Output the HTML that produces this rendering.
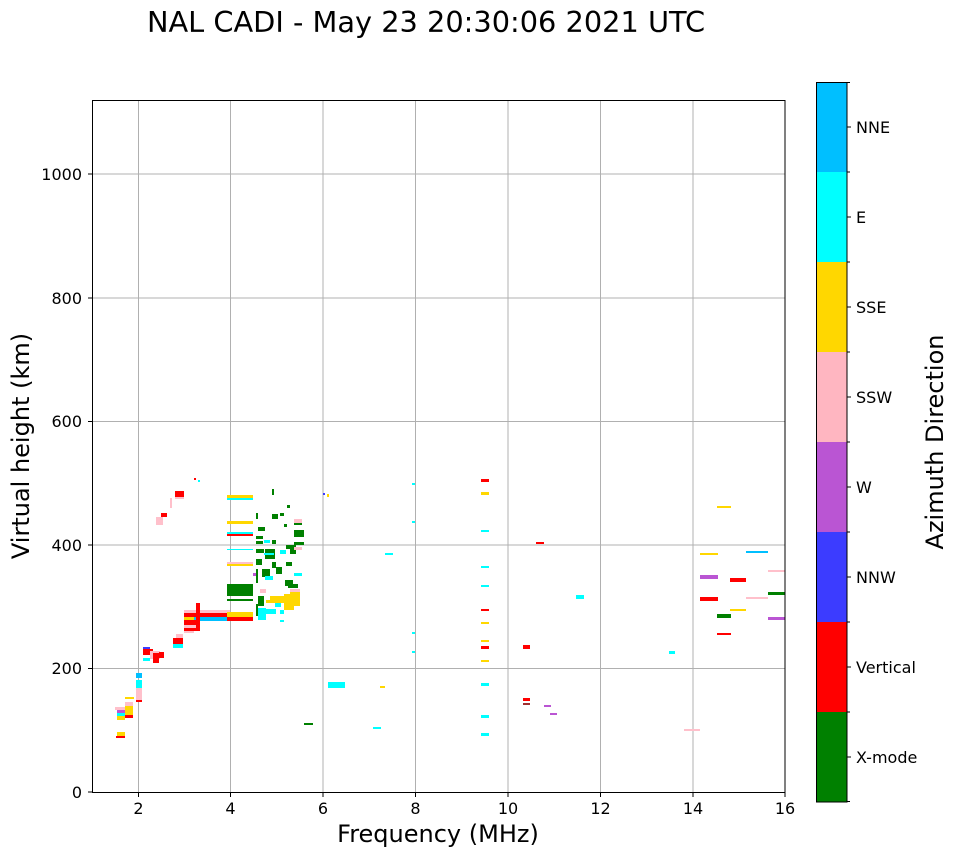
<!DOCTYPE html>
<html><head><meta charset="utf-8"><style>
body{margin:0;background:#fff;width:958px;height:857px;overflow:hidden}
</style></head><body>
<svg width="958" height="857" xmlns="http://www.w3.org/2000/svg" font-family="DejaVu Sans, Liberation Sans, sans-serif">
<text x="426" y="32" font-size="28.8" text-anchor="middle">NAL CADI - May 23 20:30:06 2021 UTC</text>
<g stroke="#b0b0b0" stroke-width="1">
<line x1="138.5" y1="100" x2="138.5" y2="792"/><line x1="230.5" y1="100" x2="230.5" y2="792"/>
<line x1="323" y1="100" x2="323" y2="792"/><line x1="415.5" y1="100" x2="415.5" y2="792"/>
<line x1="508" y1="100" x2="508" y2="792"/><line x1="600.5" y1="100" x2="600.5" y2="792"/>
<line x1="693" y1="100" x2="693" y2="792"/>
<line x1="92" y1="668.5" x2="785" y2="668.5"/><line x1="92" y1="545" x2="785" y2="545"/>
<line x1="92" y1="421.5" x2="785" y2="421.5"/><line x1="92" y1="298" x2="785" y2="298"/>
<line x1="92" y1="174" x2="785" y2="174"/>
</g>
<g>
<rect x="117" y="732" width="8" height="4" fill="#ffd700"/><rect x="116" y="736" width="9" height="2" fill="red"/>
<rect x="115" y="707" width="10" height="3" fill="pink"/><rect x="117" y="710" width="10" height="3" fill="mediumorchid"/>
<rect x="117" y="713" width="10" height="3" fill="cyan"/><rect x="117" y="716" width="8" height="4" fill="#ffd700"/>
<rect x="125" y="705" width="8" height="10" fill="#ffd700"/><rect x="125" y="715" width="8" height="3" fill="red"/>
<rect x="125" y="697" width="9" height="2" fill="#ffd700"/><rect x="125" y="702" width="8" height="4" fill="pink"/>
<rect x="136" y="673" width="6" height="5" fill="#00bfff"/><rect x="136" y="680" width="6" height="8" fill="cyan"/>
<rect x="136" y="688" width="6" height="12" fill="pink"/><rect x="136" y="700" width="6" height="2" fill="red"/>
<rect x="143" y="647" width="7" height="2" fill="#3c3cff"/><rect x="143" y="649" width="10" height="6" fill="red"/>
<rect x="143" y="658" width="7" height="3" fill="cyan"/><rect x="150" y="651" width="10" height="8" fill="pink"/>
<rect x="153" y="653" width="6" height="10" fill="red"/><rect x="159" y="652" width="5" height="6" fill="red"/>
<rect x="173" y="638" width="10" height="6" fill="red"/><rect x="173" y="644" width="10" height="4" fill="cyan"/>
<rect x="176" y="634" width="7" height="4" fill="pink"/>
<rect x="170" y="498" width="2" height="10" fill="pink"/><rect x="175" y="491" width="9" height="6" fill="red"/><rect x="175" y="497" width="9" height="2" fill="pink"/>
<rect x="161" y="513" width="6" height="4" fill="red"/><rect x="156" y="517" width="7" height="8" fill="pink"/>
<rect x="194" y="478" width="2" height="2" fill="red"/><rect x="198" y="480" width="2" height="2" fill="cyan"/>
<rect x="184" y="610" width="46" height="3" fill="pink"/><rect x="184" y="613" width="46" height="4" fill="red"/>
<rect x="184" y="617" width="10" height="3" fill="#ffd700"/><rect x="194" y="617" width="36" height="4" fill="#00bfff"/>
<rect x="184" y="620" width="14" height="5" fill="red"/><rect x="184" y="625" width="14" height="3" fill="pink"/>
<rect x="184" y="628" width="14" height="3" fill="red"/><rect x="184" y="631" width="10" height="2" fill="pink"/>
<rect x="196" y="603" width="4" height="28" fill="red"/>
<rect x="227" y="495" width="26" height="3" fill="#ffd700"/><rect x="227" y="498" width="26" height="2" fill="cyan"/>
<rect x="227" y="521" width="26" height="3" fill="#ffd700"/>
<rect x="227" y="532" width="26" height="2" fill="cyan"/><rect x="227" y="534" width="26" height="2" fill="red"/>
<rect x="227" y="549" width="26" height="1" fill="cyan"/>
<rect x="227" y="562" width="26" height="2" fill="pink"/><rect x="227" y="564" width="26" height="2" fill="#ffd700"/>
<rect x="227" y="584" width="26" height="12" fill="green"/><rect x="227" y="599" width="26" height="2" fill="green"/>
<rect x="227" y="612" width="26" height="5" fill="#ffd700"/><rect x="227" y="617" width="26" height="4" fill="red"/>
<rect x="256" y="513" width="2" height="6" fill="green"/><rect x="272" y="489" width="2" height="6" fill="green"/>
<rect x="258" y="527" width="7" height="4" fill="green"/><rect x="272" y="514" width="6" height="5" fill="green"/>
<rect x="280" y="513" width="4" height="3" fill="green"/><rect x="284" y="524" width="3" height="3" fill="green"/>
<rect x="287" y="505" width="3" height="3" fill="green"/><rect x="294" y="519" width="8" height="4" fill="pink"/>
<rect x="294" y="523" width="8" height="2" fill="green"/><rect x="294" y="530" width="10" height="7" fill="green"/>
<rect x="256" y="536" width="7" height="3" fill="green"/><rect x="256" y="541" width="7" height="3" fill="green"/>
<rect x="264" y="540" width="6" height="3" fill="cyan"/><rect x="272" y="540" width="4" height="4" fill="green"/>
<rect x="256" y="549" width="8" height="4" fill="green"/><rect x="265" y="549" width="10" height="10" fill="green"/>
<rect x="264" y="553" width="10" height="2" fill="cyan"/><rect x="286" y="545" width="10" height="4" fill="green"/>
<rect x="280" y="550" width="6" height="4" fill="cyan"/><rect x="290" y="548" width="6" height="6" fill="green"/>
<rect x="294" y="542" width="10" height="3" fill="green"/><rect x="294" y="547" width="8" height="3" fill="pink"/>
<rect x="256" y="559" width="6" height="6" fill="green"/><rect x="272" y="562" width="4" height="6" fill="green"/>
<rect x="286" y="562" width="6" height="4" fill="green"/><rect x="294" y="573" width="8" height="3" fill="cyan"/>
<rect x="256" y="569" width="2" height="14" fill="green"/><rect x="262" y="569" width="8" height="8" fill="green"/>
<rect x="265" y="576" width="8" height="4" fill="cyan"/><rect x="276" y="567" width="6" height="7" fill="green"/>
<rect x="285" y="580" width="8" height="6" fill="green"/><rect x="288" y="584" width="10" height="4" fill="green"/>
<rect x="290" y="589" width="10" height="4" fill="pink"/><rect x="290" y="592" width="10" height="3" fill="#ffd700"/>
<rect x="260" y="589" width="6" height="4" fill="pink"/><rect x="258" y="596" width="6" height="10" fill="green"/>
<rect x="266" y="600" width="30" height="3" fill="#ffd700"/><rect x="270" y="596" width="14" height="4" fill="#ffd700"/>
<rect x="284" y="594" width="16" height="12" fill="#ffd700"/><rect x="284" y="606" width="10" height="4" fill="#ffd700"/>
<rect x="258" y="608" width="8" height="12" fill="cyan"/><rect x="266" y="609" width="10" height="5" fill="cyan"/>
<rect x="275" y="603" width="6" height="4" fill="cyan"/><rect x="280" y="610" width="4" height="4" fill="cyan"/>
<rect x="256" y="604" width="2" height="12" fill="green"/><rect x="280" y="620" width="4" height="2" fill="cyan"/>
<rect x="253" y="573" width="3" height="3" fill="mediumorchid"/>
<rect x="323" y="493" width="2" height="2" fill="#3c3cff"/><rect x="327" y="494" width="2" height="3" fill="#ffd700"/>
<rect x="304" y="723" width="9" height="2" fill="green"/>
<rect x="328" y="682" width="17" height="6" fill="cyan"/><rect x="373" y="727" width="8" height="2" fill="cyan"/>
<rect x="380" y="686" width="5" height="2" fill="#ffd700"/>
<rect x="385" y="553" width="8" height="2" fill="cyan"/>
<rect x="412" y="483" width="3" height="2" fill="cyan"/><rect x="412" y="521" width="3" height="2" fill="cyan"/>
<rect x="412" y="632" width="3" height="2" fill="cyan"/><rect x="412" y="651" width="3" height="2" fill="cyan"/>
<rect x="481" y="479" width="8" height="3" fill="red"/><rect x="481" y="492" width="8" height="3" fill="#ffd700"/>
<rect x="481" y="530" width="8" height="2" fill="cyan"/><rect x="481" y="566" width="8" height="2" fill="cyan"/>
<rect x="481" y="585" width="8" height="2" fill="cyan"/><rect x="481" y="609" width="8" height="2" fill="red"/>
<rect x="481" y="622" width="8" height="2" fill="#ffd700"/><rect x="481" y="640" width="8" height="2" fill="#ffd700"/>
<rect x="481" y="646" width="8" height="3" fill="red"/><rect x="481" y="660" width="8" height="2" fill="#ffd700"/>
<rect x="481" y="683" width="8" height="3" fill="cyan"/><rect x="481" y="715" width="8" height="3" fill="cyan"/>
<rect x="481" y="733" width="8" height="3" fill="cyan"/>
<rect x="536" y="542" width="8" height="2" fill="red"/><rect x="523" y="645" width="7" height="4" fill="red"/>
<rect x="523" y="698" width="7" height="3" fill="red"/><rect x="523" y="703" width="7" height="2" fill="#a03030"/>
<rect x="576" y="595" width="8" height="4" fill="cyan"/><rect x="544" y="705" width="7" height="2" fill="mediumorchid"/>
<rect x="550" y="713" width="7" height="2" fill="mediumorchid"/>
<rect x="700" y="575" width="18" height="4" fill="mediumorchid"/><rect x="700" y="597" width="18" height="4" fill="red"/>
<rect x="700" y="553" width="18" height="2" fill="#ffd700"/><rect x="717" y="633" width="14" height="2" fill="red"/>
<rect x="717" y="614" width="14" height="4" fill="green"/><rect x="717" y="506" width="14" height="2" fill="#ffd700"/>
<rect x="730" y="578" width="16" height="4" fill="red"/><rect x="730" y="609" width="16" height="2" fill="#ffd700"/>
<rect x="746" y="551" width="22" height="2" fill="#00bfff"/><rect x="746" y="597" width="22" height="2" fill="pink"/>
<rect x="768" y="617" width="17" height="3" fill="mediumorchid"/><rect x="768" y="592" width="17" height="3" fill="green"/>
<rect x="768" y="570" width="17" height="2" fill="pink"/><rect x="684" y="729" width="16" height="2" fill="pink"/>
<rect x="669" y="651" width="6" height="3" fill="cyan"/>
</g>
<rect x="92.5" y="100.5" width="692.5" height="692" fill="none" stroke="#000"/>
<g font-size="16" text-anchor="middle">
<text x="138.5" y="814">2</text><text x="230.5" y="814">4</text><text x="323" y="814">6</text><text x="415.5" y="814">8</text>
<text x="508" y="814">10</text><text x="600.5" y="814">12</text><text x="693" y="814">14</text><text x="785" y="814">16</text>
</g>
<g font-size="16" text-anchor="end">
<text x="82" y="798">0</text><text x="82" y="674">200</text><text x="82" y="551">400</text>
<text x="82" y="427">600</text><text x="82" y="304">800</text><text x="82" y="180">1000</text>
</g>
<g stroke="#000"><line x1="88" y1="792" x2="92" y2="792"/><line x1="88" y1="668.5" x2="92" y2="668.5"/><line x1="88" y1="545" x2="92" y2="545"/><line x1="88" y1="421.5" x2="92" y2="421.5"/><line x1="88" y1="298" x2="92" y2="298"/><line x1="88" y1="174" x2="92" y2="174"/>
<line x1="138.5" y1="793" x2="138.5" y2="797"/><line x1="230.5" y1="793" x2="230.5" y2="797"/><line x1="323" y1="793" x2="323" y2="797"/><line x1="415.5" y1="793" x2="415.5" y2="797"/><line x1="508" y1="793" x2="508" y2="797"/><line x1="600.5" y1="793" x2="600.5" y2="797"/><line x1="693" y1="793" x2="693" y2="797"/><line x1="785" y1="793" x2="785" y2="797"/></g>
<text x="438" y="842" font-size="24" text-anchor="middle">Frequency (MHz)</text>
<text transform="translate(29,446) rotate(-90)" font-size="24" text-anchor="middle">Virtual height (km)</text>
<g>
<rect x="816" y="82" width="31" height="90" fill="#00bfff"/><rect x="816" y="172" width="31" height="90" fill="cyan"/>
<rect x="816" y="262" width="31" height="90" fill="#ffd700"/><rect x="816" y="352" width="31" height="90" fill="#ffb6c1"/>
<rect x="816" y="442" width="31" height="90" fill="#ba55d3"/><rect x="816" y="532" width="31" height="90" fill="#3c3cff"/>
<rect x="816" y="622" width="31" height="90" fill="red"/><rect x="816" y="712" width="31" height="90" fill="green"/>
<rect x="816.5" y="82.5" width="30.5" height="719.5" fill="none" stroke="#000"/>
</g>
<g stroke="#000">
<line x1="847" y1="82.5" x2="850" y2="82.5"/><line x1="847" y1="172" x2="850" y2="172"/><line x1="847" y1="262" x2="850" y2="262"/><line x1="847" y1="352" x2="850" y2="352"/><line x1="847" y1="442" x2="850" y2="442"/><line x1="847" y1="532" x2="850" y2="532"/><line x1="847" y1="622" x2="850" y2="622"/><line x1="847" y1="712" x2="850" y2="712"/><line x1="847" y1="801.5" x2="850" y2="801.5"/>
<line x1="847" y1="127" x2="851" y2="127"/><line x1="847" y1="217" x2="851" y2="217"/><line x1="847" y1="307" x2="851" y2="307"/><line x1="847" y1="397" x2="851" y2="397"/><line x1="847" y1="487" x2="851" y2="487"/><line x1="847" y1="577" x2="851" y2="577"/><line x1="847" y1="667" x2="851" y2="667"/><line x1="847" y1="757" x2="851" y2="757"/>
</g>
<g font-size="16">
<text x="856" y="133">NNE</text><text x="856" y="223">E</text><text x="856" y="313">SSE</text><text x="856" y="403">SSW</text>
<text x="856" y="493">W</text><text x="856" y="583">NNW</text><text x="856" y="673">Vertical</text><text x="856" y="763">X-mode</text>
</g>
<text transform="translate(943,442) rotate(-90)" font-size="24" text-anchor="middle">Azimuth Direction</text>
</svg>
</body></html>
